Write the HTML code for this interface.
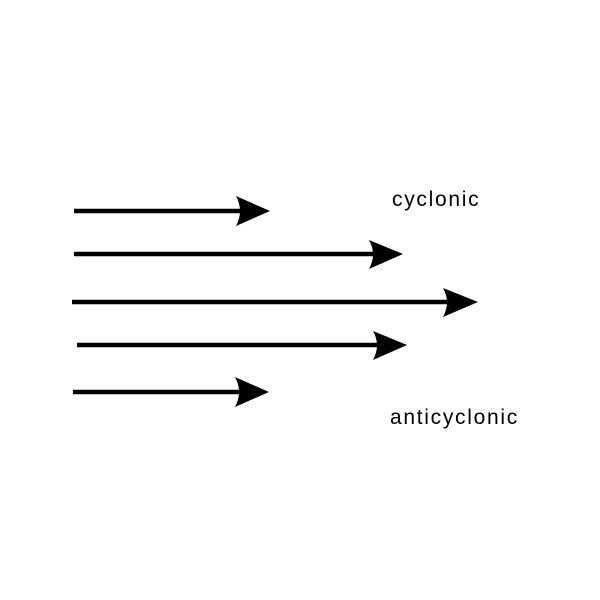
<!DOCTYPE html>
<html><head><style>
html,body{margin:0;padding:0;background:#fff;}
svg{display:block;}
text{font-family:"Liberation Sans",sans-serif;font-size:21px;letter-spacing:1.7px;fill:#000;}
</style></head><body>
<svg width="600" height="600" viewBox="0 0 600 600" xmlns="http://www.w3.org/2000/svg">
<g stroke="#000" stroke-width="4.5">
<line x1="74" y1="211" x2="242" y2="211"/>
<line x1="74" y1="254" x2="375" y2="254"/>
<line x1="72" y1="302" x2="447" y2="302"/>
<line x1="77" y1="345" x2="378" y2="345"/>
<line x1="73" y1="392" x2="240" y2="392"/>
</g>
<g fill="#000">
<path d="M270,211 L236,196 Q244,211 236,226 Z"/>
<path d="M403,254 L369,240 Q377,254 369,269 Z"/>
<path d="M478,302 L443,288 Q451,302 443,317 Z"/>
<path d="M407,345 L373,331 Q381,345 373,360 Z"/>
<path d="M269,392 L235,377 Q243,392 235,407 Z"/>
</g>
<text x="392" y="206">cyclonic</text>
<text x="390" y="424">anticyclonic</text>
</svg>
</body></html>
